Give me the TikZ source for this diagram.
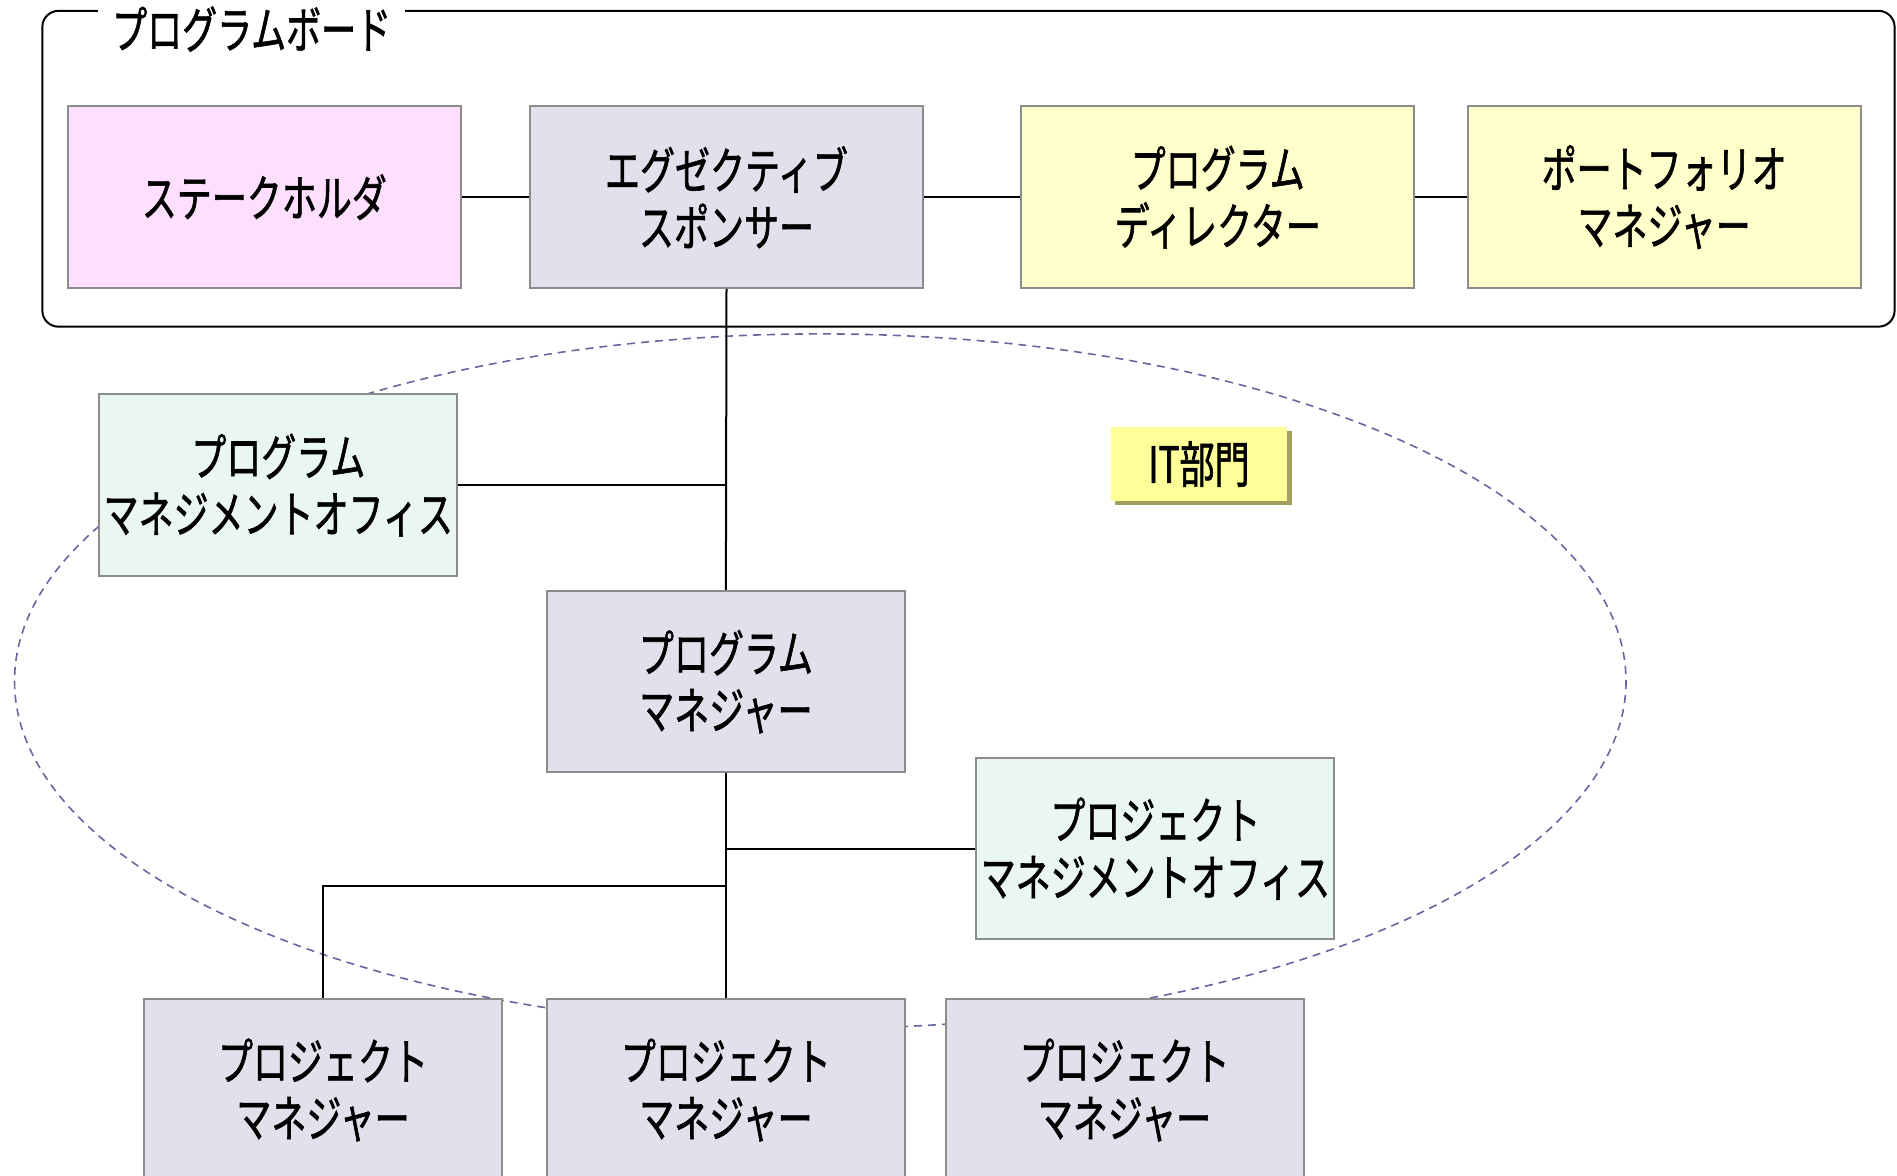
\documentclass[tikz,border=0pt]{standalone}
\usepackage{fontspec}
\newfontfamily\jp[FakeStretch=0.7,FakeBold=1.2]{Noto Sans CJK JP}
\definecolor{pinkfill}{HTML}{FFDFFF}
\definecolor{greyfill}{HTML}{E1E1EC}
\definecolor{yellowfill}{HTML}{FFFFCC}
\definecolor{greenfill}{HTML}{EAF7F0}
\definecolor{labelfill}{HTML}{FFFF99}
\definecolor{labelshadow}{HTML}{A0A060}
\definecolor{boxborder}{HTML}{8C8C8C}
\definecolor{ellcol}{HTML}{6666A0}
\begin{document}
\begin{tikzpicture}[x=1.2098pt,y=-1.2098pt,
  txt/.style={font=\jp\fontsize{50}{57}\selectfont, align=center, text=black},
  box/.style={txt, draw=boxborder, line width=2pt, inner sep=0pt},
  widebox/.style={box, minimum width=393pt, minimum height=181.5pt},
  midbox/.style={box, minimum width=358pt, minimum height=181.5pt},
  conn/.style={draw=black, line width=2pt},
  ell/.style={draw=ellcol, line width=1.6pt, dash pattern=on 8pt off 6pt},
  frame/.style={draw=black, line width=2pt, rounded corners=16pt}]
\useasboundingbox (0,0) rectangle (1568,972);

% board frame
\draw[frame] (35,9) rectangle (1566,270);
\node[txt, fill=white, inner xsep=14pt, inner ysep=0pt, minimum height=50pt] (title) at (208,24) {プログラムボード};

% IT department ellipse
\draw[ell] (678,563) ellipse [x radius=666, y radius=287];

% junction points
\coordinate (j1) at (600,401);
\coordinate (j2) at (600,701.5);
\coordinate (j3) at (600,732);

% nodes
\node[widebox, fill=pinkfill] (sh) at (218.5,163) {ステークホルダ};
\node[widebox, fill=greyfill] (ex) at (600.5,163) {エグゼクティブ\\スポンサー};
\node[widebox, fill=yellowfill] (dir) at (1006.5,163) {プログラム\\ディレクター};
\node[widebox, fill=yellowfill] (pf) at (1375.5,163) {ポートフォリオ\\マネジャー};

\node[midbox, fill=greenfill] (pmo) at (230,401) {プログラム\\マネジメントオフィス};
\node[midbox, fill=greyfill] (pm) at (600,563.5) {プログラム\\マネジャー};
\node[midbox, fill=greenfill] (pjmo) at (955,701.5) {プロジェクト\\マネジメントオフィス};

\node[midbox, fill=greyfill] (pj1) at (267,901) {プロジェクト\\マネジャー};
\node[midbox, fill=greyfill] (pj2) at (600,901) {プロジェクト\\マネジャー};
\node[midbox, fill=greyfill] (pj3) at (929.5,901) {プロジェクト\\マネジャー};

% IT label with shadow
\fill[labelshadow] (922,356) rectangle (1068,417);
\node[txt, fill=labelfill, minimum width=176pt, minimum height=74pt, inner sep=0pt] (it) at (991,383.5) {IT部門};

% connectors
\draw[conn] (sh.east) -- (ex.west);
\draw[conn] (ex.east) -- (dir.west);
\draw[conn] (dir.east) -- (pf.west);
\draw[conn] (ex.south) -- (pm.north);
\draw[conn] (pmo.east) -- (j1);
\draw[conn] (pm.south) -- (pj2.north);
\draw[conn] (j2) -- (pjmo.west);
\draw[conn] (j3) -| (pj1.north);
\end{tikzpicture}
\end{document}
